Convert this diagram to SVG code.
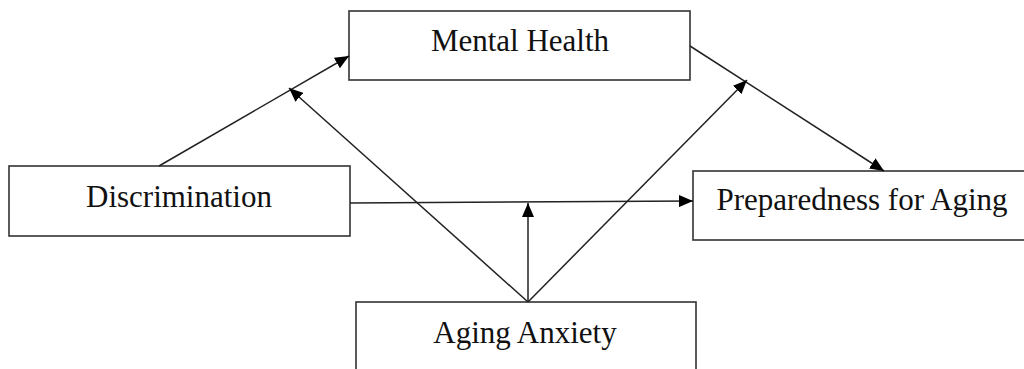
<svg xmlns="http://www.w3.org/2000/svg" width="1024" height="369" viewBox="0 0 1024 369">
<style>
.box{fill:#fff;stroke:#333;stroke-width:1.6}
.lbl{font-family:"Liberation Serif","Times New Roman",serif;font-size:31px;fill:#111;text-anchor:middle}
.con{stroke:#222;stroke-width:1.5;fill:none;marker-end:url(#ah)}
</style>
<defs>
<marker id="ah" viewBox="0 0 14 12" refX="14" refY="6" markerWidth="14" markerHeight="12" markerUnits="userSpaceOnUse" orient="auto">
<path d="M0,0 L14,6 L0,12 Z" fill="#000"/>
</marker>
</defs>
<rect width="1024" height="369" fill="#fff"/>
<g id="mental-health"><rect class="box" x="349" y="11" width="341" height="69"/><text class="lbl" x="520" y="51">Mental Health</text></g>
<g id="discrimination"><rect class="box" x="9" y="166" width="341" height="70"/><text class="lbl" x="179" y="207">Discrimination</text></g>
<g id="preparedness"><rect class="box" x="693" y="171" width="340" height="69"/><text class="lbl" x="862" y="210">Preparedness for Aging</text></g>
<g id="aging-anxiety"><rect class="box" x="356" y="302" width="340" height="80"/><text class="lbl" x="525" y="343">Aging Anxiety</text></g>
<g id="connectors">
<line class="con" x1="159" y1="166" x2="349" y2="56"/>
<line class="con" x1="350" y1="203" x2="693" y2="201"/>
<line class="con" x1="690" y1="46" x2="884" y2="171"/>
<line class="con" x1="528" y1="302" x2="289" y2="88"/>
<line class="con" x1="528" y1="302" x2="528" y2="203"/>
<line class="con" x1="528" y1="302" x2="747" y2="80"/>
</g>
</svg>
